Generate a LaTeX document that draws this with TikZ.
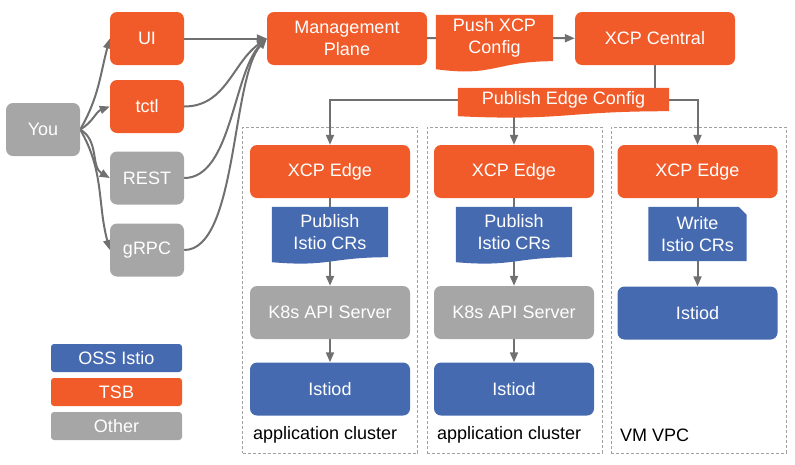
\documentclass[tikz,border=0pt]{standalone}
\usepackage{fontspec}
\setmainfont{Liberation Sans}
\usepackage{tikz}
\usetikzlibrary{arrows.meta,backgrounds,calc}
\definecolor{tsborange}{RGB}{241,91,42}
\definecolor{ossblue}{RGB}{70,106,176}
\definecolor{othergray}{RGB}{166,166,166}
\definecolor{linegray}{RGB}{112,112,112}
\definecolor{boxgray}{RGB}{160,160,160}
\newcommand{\docwave}[3]{\fill[#2] (#1.north west) -- (#1.north east) -- (#1.south east)
  .. controls ($(#1.south east)!0.5!(#1.south west)$) and ($(#1.south east)!0.5!(#1.south west)+(0,{2*#3})$)
  .. ($(#1.south west)+(0,#3)$) -- cycle;}
\newcommand{\docfold}[2]{\fill[#2] (#1.north west) -- ([xshift=-8pt]#1.north east) -- ([yshift=-8pt]#1.north east)
  -- (#1.south east) -- (#1.south west) -- cycle;}

\begin{document}
\begin{tikzpicture}[x=1pt,y=-1pt]
\tikzstyle{main}=[rectangle, rounded corners=7pt, inner sep=0pt, align=center, text=white, minimum width=160pt, minimum height=53pt, font=\fontsize{18}{22}\selectfont]
\tikzstyle{tsb}=[main, fill=tsborange]
\tikzstyle{oss}=[main, fill=ossblue]
\tikzstyle{other}=[main, fill=othergray]
\tikzstyle{narrow}=[minimum width=74pt]
\tikzstyle{doc}=[main, rounded corners=0pt]
\tikzstyle{swatch}=[main, rounded corners=3pt, minimum width=131pt, minimum height=28pt]
\tikzstyle{cluster}=[rectangle, draw=boxgray, dash pattern=on 3pt off 2pt, line width=0.8pt, minimum width=175pt, minimum height=326pt]
\tikzstyle{caption}=[anchor=west, inner sep=0pt, font=\fontsize{18}{22}\selectfont]
\tikzstyle{connect}=[-{Triangle[length=10pt,width=8pt]}, line width=2pt, draw=linegray]
\tikzstyle{link}=[line width=2pt, draw=linegray]

  \useasboundingbox (0,0) rectangle (795,464);

  \node[cluster] (appcluster1) at (330,290)   {};
  \node[cluster] (appcluster2) at (514.5,290) {};
  \node[cluster] (vmvpc)       at (698.5,290) {};

  \node[other, narrow] (you)  at (43,129.5)                       {You};
  \node[tsb, narrow]   (ui)   at (147,38.5)                       {UI};
  \node[tsb, narrow]   (tctl) [below of =ui,   node distance=68pt]   {tctl};
  \node[other, narrow] (rest) [below of =tctl, node distance=71.5pt] {REST};
  \node[other, narrow] (grpc) [below of =rest, node distance=72pt]   {gRPC};

  \node[tsb] (mp)      at (347,38.5)  {Management\\Plane};
  \node[doc, minimum width=117pt, minimum height=46pt] (push) at (494.5,38) {Push XCP\\Config};
  \node[tsb] (central) at (655,38.5)  {XCP Central};
  \node[doc, minimum width=211pt, minimum height=23pt] (pubedge) at (563.5,99.5) {Publish Edge Config};

  \node[tsb]   (edge1)   at (330,171.5) {XCP Edge};
  \node[doc, minimum width=116pt, minimum height=50pt] (pub1) [below of =edge1, node distance=60.5pt] {Publish\\Istio CRs};
  \node[other] (k8s1)    [below of =pub1, node distance=80.5pt] {K8s API Server};
  \node[oss]   (istiod1) [below of =k8s1, node distance=76.5pt] {Istiod};

  \node[tsb]   (edge2)   at (514,171.5) {XCP Edge};
  \node[doc, minimum width=116pt, minimum height=50pt] (pub2) [below of =edge2, node distance=60.5pt] {Publish\\Istio CRs};
  \node[other] (k8s2)    [below of =pub2, node distance=80.5pt] {K8s API Server};
  \node[oss]   (istiod2) [below of =k8s2, node distance=76.5pt] {Istiod};

  \node[tsb]   (edge3)   at (697.5,171.5) {XCP Edge};
  \node[doc, minimum width=98pt, minimum height=54pt] (write3) [below of =edge3, node distance=62.5pt] {Write\\Istio CRs};
  \node[oss]   (istiod3) [below of =write3, node distance=79pt] {Istiod};

  \node[caption] (applabel1) at (253,435) {application cluster};
  \node[caption] (applabel2) at (437,435) {application cluster};
  \node[caption] (vmlabel)   at (620,435) {VM VPC};

  \node[swatch, fill=ossblue]   (keyoss)   at (116.5,358) {OSS Istio};
  \node[swatch, fill=tsborange] (keytsb)   at (116.5,392) {TSB};
  \node[swatch, fill=othergray] (keyother) at (116.5,426) {Other};

  \begin{scope}[on background layer]
  \draw[connect] (you.east) to[out=60, in=255]  (ui.west);
  \draw[connect] (you.east) to[out=30, in=200]  (tctl.west);
  \draw[connect] (you.east) to[out=-30, in=150] (rest.west);
  \draw[connect] (you.east) to[out=-60, in=105] (grpc.west);

  \path (ui) edge [connect] (mp);
  \draw[connect] (tctl.east) to[out=0, in=215] (mp.west);
  \draw[connect, looseness=0.75] (rest.east) to[out=0, in=225] (mp.west);
  \draw[connect, looseness=0.6]  (grpc.east) to[out=0, in=228] (mp.west);

  \path (mp) edge [link] (push);
  \path (push) edge [connect] (central);
  \draw[link] (central) -- (pubedge -| central);
  \draw[connect] (pubedge) -| (edge1);
  \draw[connect] (pubedge -| edge2) -- (edge2);
  \draw[connect] (pubedge) -| (edge3);

  \path (edge1) edge [link] (pub1);
  \path (pub1) edge [connect] (k8s1);
  \path (k8s1) edge [connect] (istiod1);
  \path (edge2) edge [link] (pub2);
  \path (pub2) edge [connect] (k8s2);
  \path (k8s2) edge [connect] (istiod2);
  \path (edge3) edge [link] (write3);
  \path (write3) edge [connect] (istiod3);

  \docwave{push}{tsborange}{8}
  \docwave{pubedge}{tsborange}{5}
  \docwave{pub1}{ossblue}{5}
  \docwave{pub2}{ossblue}{5}
  \docfold{write3}{ossblue}
  \end{scope}

\end{tikzpicture}
\end{document}
